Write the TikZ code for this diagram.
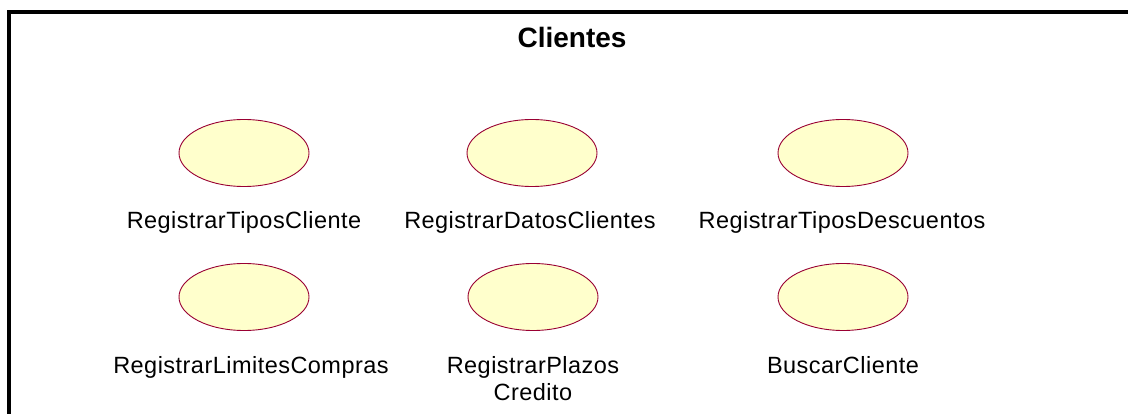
\documentclass[tikz,border=0pt]{standalone}
\usepackage{fontspec}
\setmainfont{Liberation Sans}
\newfontfamily\labelfont[LetterSpace=2]{Liberation Sans}
\newfontfamily\titlefont{Liberation Sans Bold}
\definecolor{ucfill}{HTML}{FFFFCC}
\definecolor{ucdraw}{HTML}{990033}
\begin{document}
\begin{tikzpicture}[x=1pt,y=-1pt,
  usecase/.style={draw=ucdraw,fill=ucfill,line width=0.9pt},
  uclabel/.style={anchor=base,inner sep=0pt,font=\labelfont\fontsize{23.5}{27}\selectfont,align=center}]
\useasboundingbox (0,0) rectangle (1128,414);
\fill[white] (0,0) rectangle (1128,414);
\draw[line width=4pt,line join=miter] (8.5,430) -- (8.5,12.5) -- (1140,12.5);
\node[anchor=base,inner sep=0pt,font=\titlefont\fontsize{28}{32}\selectfont] (title) at (572,48) {Clientes};
\draw[usecase] (244,153) ellipse [x radius=65,y radius=33.5];
\draw[usecase] (532,153) ellipse [x radius=65,y radius=33.5];
\draw[usecase] (843,153) ellipse [x radius=65,y radius=33.5];
\draw[usecase] (244,297) ellipse [x radius=65,y radius=33.5];
\draw[usecase] (533,297) ellipse [x radius=65,y radius=33.5];
\draw[usecase] (843,297) ellipse [x radius=65,y radius=33.5];
\node[uclabel] (l1) at (244,229) {RegistrarTiposCliente};
\node[uclabel] (l2) at (530,229) {RegistrarDatosClientes};
\node[uclabel] (l3) at (842,229) {RegistrarTiposDescuentos};
\node[uclabel] (l4) at (251,373) {RegistrarLimitesCompras};
\node[uclabel] (l5) at (533,400) {RegistrarPlazos\\Credito};
\node[uclabel] (l6) at (843,373) {BuscarCliente};
\end{tikzpicture}
\end{document}
